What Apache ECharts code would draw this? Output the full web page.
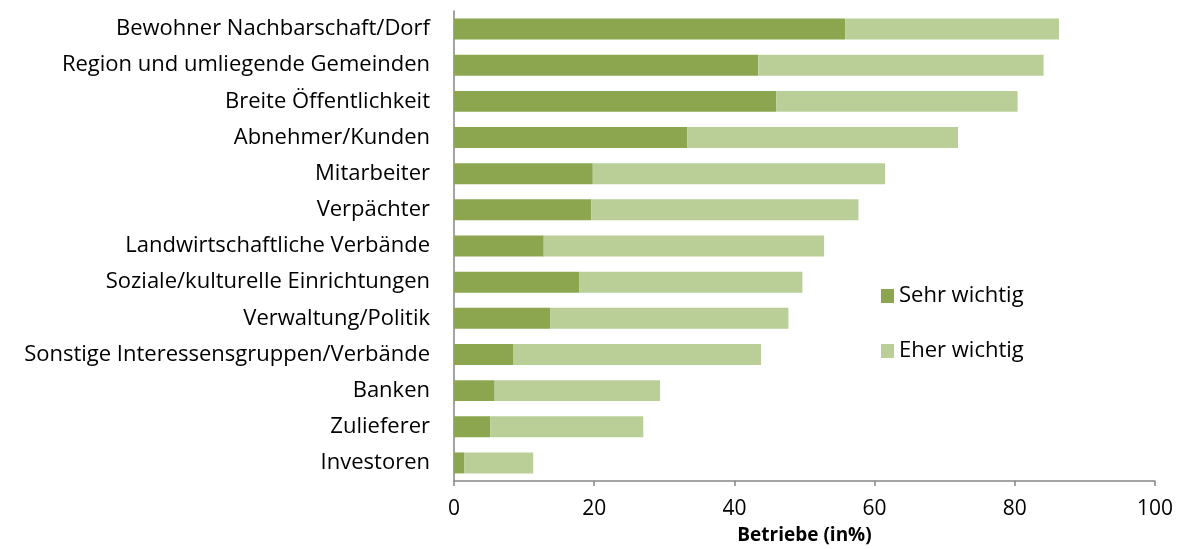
<!DOCTYPE html>
<html>
<head>
<meta charset="utf-8">
<script src="https://cdn.jsdelivr.net/npm/echarts@6/dist/echarts.min.js"></script>
<style>
  html, body { margin: 0; padding: 0; background: #fff; }
  #chart { width: 1178px; height: 549px; }
</style>
</head>
<body>
<div id="chart"></div>
<script>
// Kategorien von oben nach unten
var categories = [
  'Bewohner Nachbarschaft/Dorf',
  'Region und umliegende Gemeinden',
  'Breite Öffentlichkeit',
  'Abnehmer/Kunden',
  'Mitarbeiter',
  'Verpächter',
  'Landwirtschaftliche Verbände',
  'Soziale/kulturelle Einrichtungen',
  'Verwaltung/Politik',
  'Sonstige Interessensgruppen/Verbände',
  'Banken',
  'Zulieferer',
  'Investoren'
];
var sehrWichtig = [55.8, 43.4, 46.0, 33.3, 19.8, 19.6, 12.8, 17.9, 13.7, 8.5, 5.8, 5.2, 1.5];
var eherWichtig = [30.5, 40.7, 34.4, 38.6, 41.7, 38.1, 40.0, 31.8, 34.0, 35.3, 23.6, 21.8, 9.8];
var xTicks = [0, 20, 40, 60, 80, 100];

var font = '"Open Sans", sans-serif';
var axisGray = '#868686';

var chart = echarts.init(document.getElementById('chart'));
chart.setOption({
  animation: false,
  textStyle: { fontFamily: font, color: '#000' },
  grid: { left: 454, right: 23, top: 11, bottom: 68, containLabel: false, outerBoundsMode: 'none' },
  legend: {
    orient: 'vertical',
    left: 876,
    top: 280,
    itemWidth: 13,
    itemHeight: 14,
    itemGap: 33,
    icon: 'rect',
    textStyle: { fontFamily: font, fontSize: 22, color: '#000', padding: [0, 0, 0, 0] },
    data: ['Sehr wichtig', 'Eher wichtig']
  },
  xAxis: {
    type: 'value',
    min: xTicks[0],
    max: xTicks[xTicks.length - 1],
    interval: 20,
    name: 'Betriebe (in%)',
    nameLocation: 'middle',
    nameGap: 45,
    nameTextStyle: { fontFamily: font, fontSize: 19, fontWeight: 'bold', color: '#000' },
    axisLine: { show: true, lineStyle: { color: axisGray, width: 1.5 } },
    axisTick: { show: true, length: 5, lineStyle: { color: axisGray, width: 1.5 } },
    axisLabel: { fontSize: 21, color: '#000', margin: 18 },
    splitLine: { show: false }
  },
  yAxis: {
    type: 'category',
    inverse: true,
    data: categories,
    axisLine: { show: true, lineStyle: { color: axisGray, width: 1.5 } },
    axisTick: { show: false },
    axisLabel: { fontSize: 22, color: '#000', margin: 24, padding: [3, 0, 0, 0] }
  },
  series: [
    {
      name: 'Sehr wichtig',
      type: 'bar',
      stack: 'total',
      barCategoryGap: '42%',
      itemStyle: { color: '#8BA64F' },
      data: sehrWichtig
    },
    {
      name: 'Eher wichtig',
      type: 'bar',
      stack: 'total',
      barCategoryGap: '42%',
      itemStyle: { color: '#BACF98' },
      data: eherWichtig
    }
  ]
});
</script>
</body>
</html>
